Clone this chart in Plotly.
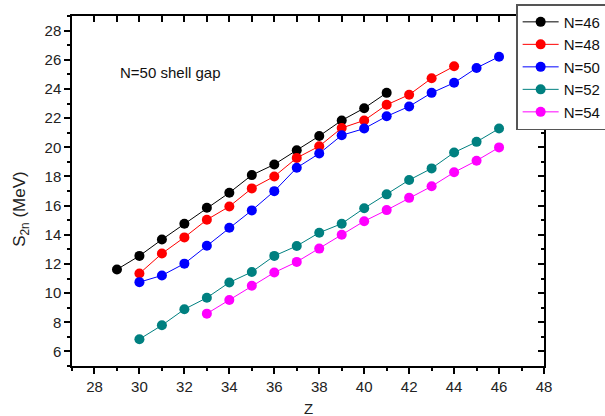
import plotly.graph_objects as go

z46 = list(range(29, 42))
s46 = [11.62, 12.55, 13.67, 14.76, 15.85, 16.88, 18.09, 18.82, 19.80, 20.77, 21.84, 22.68, 23.73]

z48 = list(range(30, 45))
s48 = [11.34, 12.71, 13.82, 15.03, 15.94, 17.18, 18.00, 19.27, 20.07, 21.32, 21.84, 22.91, 23.60, 24.73, 25.55]

z50 = list(range(30, 47))
s50 = [10.75, 11.21, 12.02, 13.25, 14.48, 15.67, 16.99, 18.59, 19.57, 20.82, 21.28, 22.12, 22.80, 23.73, 24.42, 25.44, 26.21]

z52 = list(range(30, 47))
s52 = [6.84, 7.79, 8.89, 9.68, 10.73, 11.45, 12.55, 13.23, 14.14, 14.76, 15.82, 16.77, 17.75, 18.55, 19.64, 20.37, 21.28]

z54 = list(range(33, 47))
s54 = [8.59, 9.52, 10.50, 11.41, 12.14, 13.05, 14.00, 14.93, 15.69, 16.53, 17.32, 18.28, 19.08, 19.99]

series = [
    ("N=46", z46, s46, "#000000"),
    ("N=48", z48, s48, "#FF0000"),
    ("N=50", z50, s50, "#0000FF"),
    ("N=52", z52, s52, "#008080"),
    ("N=54", z54, s54, "#FF00FF"),
]

FONT = "Liberation Sans, Arial, sans-serif"

fig = go.Figure()
for name, xs, ys, c in series:
    fig.add_trace(go.Scatter(
        x=xs, y=ys, mode="lines+markers", name=name,
        line=dict(color=c, width=1),
        marker=dict(color=c, size=10, line=dict(width=0)),
    ))

# dummy trace to materialize mirrored axes
fig.add_trace(go.Scatter(x=[], y=[], xaxis="x2", yaxis="y2", showlegend=False, hoverinfo="skip"))

axis_common = dict(showgrid=False, zeroline=False, showline=True, linecolor="black",
                   linewidth=1.5, tickcolor="black", tickwidth=1.5)

fig.update_layout(
    width=605, height=416,
    margin=dict(l=72, r=61, t=16, b=50, autoexpand=False),
    paper_bgcolor="white", plot_bgcolor="white",
    font=dict(family=FONT, size=15, color="#222"),
    xaxis=dict(range=[27, 48], dtick=2, tick0=0, ticks="outside", ticklen=6,
               minor=dict(dtick=1, ticks="outside", ticklen=3, tickcolor="black", tickwidth=1.5),
               tickfont=dict(size=15, color="#222"), **axis_common),
    yaxis=dict(range=[5, 29], dtick=2, tick0=0, ticks="outside", ticklen=6,
               minor=dict(dtick=1, ticks="outside", ticklen=3, tickcolor="black", tickwidth=1.5),
               tickfont=dict(size=15, color="#222"), **axis_common),
    xaxis2=dict(range=[27, 48], overlaying="x", side="top", anchor="y2", dtick=1, tick0=0,
                ticks="inside", ticklen=6, showticklabels=False, **axis_common),
    yaxis2=dict(range=[5, 29], overlaying="y", side="right", anchor="x2", dtick=2, tick0=0,
                ticks="inside", ticklen=6, showticklabels=False,
                minor=dict(dtick=1, ticks="inside", ticklen=3, tickcolor="black", tickwidth=1.5),
                **axis_common),
    legend=dict(x=0.941, y=1.034, xanchor="left", yanchor="top",
                bgcolor="white", bordercolor="#555", borderwidth=1.5,
                font=dict(family=FONT, size=15, color="#111"),
                itemwidth=36, tracegroupgap=0),
    showlegend=True,
)

fig.add_annotation(x=29.05, y=25.1, xref="x", yref="y", text="N=50 shell gap",
                   showarrow=False, xanchor="left", yanchor="middle",
                   font=dict(family=FONT, size=15, color="#111"))
fig.add_annotation(x=0.5, y=-0.12, xref="paper", yref="paper", text="Z",
                   showarrow=False, xanchor="center", yanchor="middle",
                   font=dict(family=FONT, size=15, color="#222"))
fig.add_annotation(x=-0.108, y=0.449, xref="paper", yref="paper", text="S<sub>2n</sub> (MeV)",
                   showarrow=False, xanchor="center", yanchor="middle", textangle=-90,
                   font=dict(family=FONT, size=17, color="#222"))

fig.write_html("out.html")
